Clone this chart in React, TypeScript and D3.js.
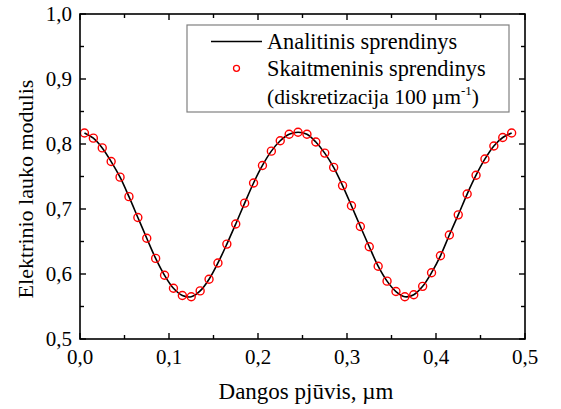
import React from "react";
import * as d3 from "d3";

const positions = [
  0.005, 0.015, 0.025, 0.035, 0.045, 0.055, 0.065, 0.075, 0.085, 0.095,
  0.105, 0.115, 0.125, 0.135, 0.145, 0.155, 0.165, 0.175, 0.185, 0.195,
  0.205, 0.215, 0.225, 0.235, 0.245, 0.255, 0.265, 0.275, 0.285, 0.295,
  0.305, 0.315, 0.325, 0.335, 0.345, 0.355, 0.365, 0.375, 0.385, 0.395,
  0.405, 0.415, 0.425, 0.435, 0.445, 0.455, 0.465, 0.475, 0.485,
];
const numericValues = [
  0.817, 0.809, 0.794, 0.773, 0.749, 0.719, 0.687, 0.655, 0.624, 0.598,
  0.578, 0.567, 0.565, 0.574, 0.592, 0.617, 0.646, 0.677, 0.709, 0.74,
  0.767, 0.789, 0.805, 0.815, 0.818, 0.815, 0.803, 0.786, 0.764, 0.736,
  0.705, 0.673, 0.642, 0.612, 0.589, 0.573, 0.565, 0.568, 0.581, 0.602,
  0.628, 0.66, 0.691, 0.723, 0.752, 0.777, 0.797, 0.81, 0.817,
];
const analyticValues = numericValues;

const xTicks = [0, 0.1, 0.2, 0.3, 0.4, 0.5];
const yTicks = [0.5, 0.6, 0.7, 0.8, 0.9, 1.0];
const xMinor = [0.05, 0.15, 0.25, 0.35, 0.45];
const yMinor = [0.55, 0.65, 0.75, 0.85, 0.95];

const xTitle = "Dangos pjūvis, µm";
const yTitle = "Elektrinio lauko modulis";
const legend1 = "Analitinis sprendinys";
const legend2 = "Skaitmeninis sprendinys";
const legend3a = "(diskretizacija 100 µm";
const legend3sup = "-1";
const legend3b = ")";

const W = 561;
const H = 409;
const L = 80, R = 525, T = 14, B = 339;
const FONT = '"Liberation Serif", "Times New Roman", Times, "DejaVu Serif", serif';

export default function App() {
  const x = d3.scaleLinear().domain([0, 0.5]).range([L, R]);
  const y = d3.scaleLinear().domain([0.5, 1.0]).range([B, T]);
  const fmt = (v: number) => d3.format(".1f")(v).replace(".", ",");

  const line = d3
    .line<number>()
    .x((_, i) => x(positions[i]))
    .y((d) => y(d))
    .curve(d3.curveCatmullRom.alpha(0.5));

  const MAJ = 6, MIN = 4;

  return (
    <svg
      width={W}
      height={H}
      style={{ position: "absolute", left: 0, top: 0, background: "#fff", fontFamily: FONT }}
    >
      <rect x={0} y={0} width={W} height={H} fill="#fff" />
      <path d={line(analyticValues) || ""} fill="none" stroke="#000" strokeWidth={1.6} />
      {numericValues.map((v, i) => (
        <circle key={i} cx={x(positions[i])} cy={y(v)} r={4} fill="none" stroke="#ff0000" strokeWidth={1.4} />
      ))}
      <rect x={L} y={T} width={R - L} height={B - T} fill="none" stroke="#000" strokeWidth={1.6} />
      {xTicks.map((t) => (
        <g key={"xt" + t}>
          <line x1={x(t)} x2={x(t)} y1={B} y2={B - MAJ} stroke="#000" strokeWidth={1.4} />
          <line x1={x(t)} x2={x(t)} y1={T} y2={T + MAJ} stroke="#000" strokeWidth={1.4} />
          <text x={x(t)} y={364} textAnchor="middle" fontSize={21} fill="#000">
            {fmt(t)}
          </text>
        </g>
      ))}
      {xMinor.map((t) => (
        <g key={"xm" + t}>
          <line x1={x(t)} x2={x(t)} y1={B} y2={B - MIN} stroke="#000" strokeWidth={1.4} />
          <line x1={x(t)} x2={x(t)} y1={T} y2={T + MIN} stroke="#000" strokeWidth={1.4} />
        </g>
      ))}
      {yTicks.map((t) => (
        <g key={"yt" + t}>
          <line x1={L} x2={L + MAJ} y1={y(t)} y2={y(t)} stroke="#000" strokeWidth={1.4} />
          <line x1={R} x2={R - MAJ} y1={y(t)} y2={y(t)} stroke="#000" strokeWidth={1.4} />
          <text x={72} y={y(t) + 7} textAnchor="end" fontSize={21} fill="#000">
            {fmt(t)}
          </text>
        </g>
      ))}
      {yMinor.map((t) => (
        <g key={"ym" + t}>
          <line x1={L} x2={L + MIN} y1={y(t)} y2={y(t)} stroke="#000" strokeWidth={1.4} />
          <line x1={R} x2={R - MIN} y1={y(t)} y2={y(t)} stroke="#000" strokeWidth={1.4} />
        </g>
      ))}
      <text x={306} y={399} textAnchor="middle" fontSize={23} fill="#000">
        {xTitle}
      </text>
      <text
        transform={`translate(33,189) rotate(-90)`}
        textAnchor="middle"
        fontSize={22}
        fill="#000"
      >
        {yTitle}
      </text>
      <rect x={187} y={25} width={322} height={87} fill="#fff" stroke="#808080" strokeWidth={1.2} />
      <line x1={211} x2={262} y1={41.5} y2={41.5} stroke="#000" strokeWidth={1.6} />
      <circle cx={236.5} cy={68.3} r={3} fill="none" stroke="#ff0000" strokeWidth={1.3} />
      <text x={267} y={48.5} fontSize={22.3} fill="#000">{legend1}</text>
      <text x={267} y={75.5} fontSize={22.3} fill="#000">{legend2}</text>
      <text x={267} y={104} fontSize={21.5} fill="#000">
        {legend3a}
        <tspan fontSize={13} dy={-9}>{legend3sup}</tspan>
        <tspan dy={9}>{legend3b}</tspan>
      </text>
    </svg>
  );
}
